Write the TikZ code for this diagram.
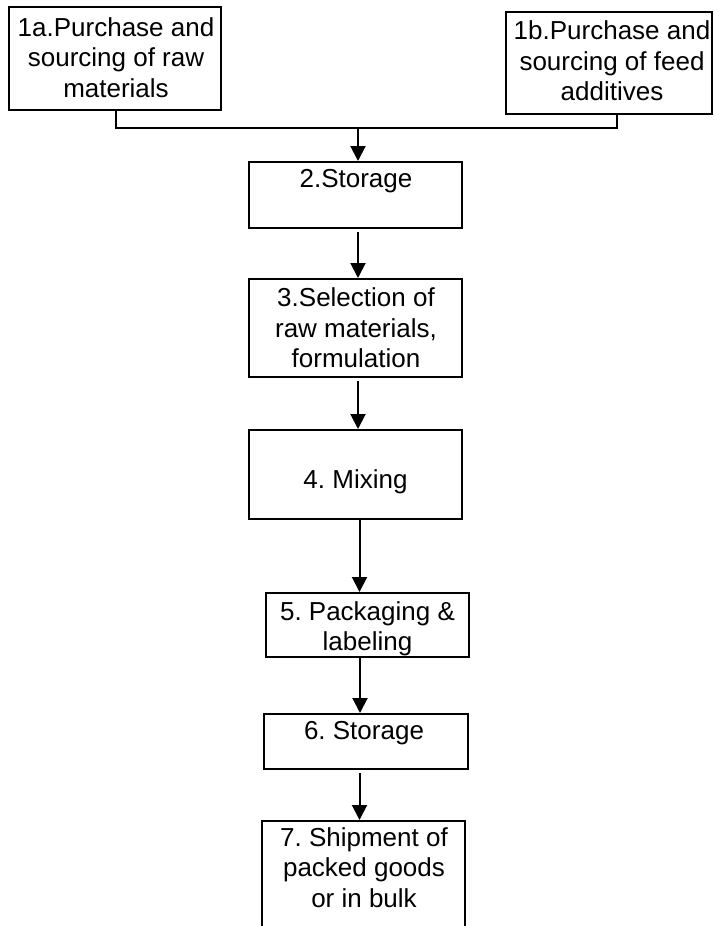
\documentclass[tikz,border=0pt]{standalone}
\usepackage{fontspec}
\setmainfont{Liberation Sans}
\usetikzlibrary{arrows.meta,calc}
\frenchspacing
\begin{document}
\begin{tikzpicture}[x=1pt,y=-1pt,
  box/.style={draw=black, line width=2pt, rectangle, inner sep=0pt},
  txt/.style={anchor=north, inner sep=0pt, align=center, font=\frenchspacing\fontsize{26}{30.5}\selectfont},
  arr/.style={draw=black, line width=2pt, -{Triangle[length=15pt,width=15pt]}},
  conn/.style={draw=black, line width=1.4pt}]
\useasboundingbox (0,0) rectangle (713,926);
\clip (0,0) rectangle (713,926);
\fill[white] (0,0) rectangle (713,926);
% boxes
\node[box, minimum width=212pt, minimum height=103pt] (b1a) at (115,58.5) {};
\node[box, minimum width=206pt, minimum height=102pt] (b1b) at (609,63) {};
\node[box, minimum width=213pt, minimum height=66pt] (s2) at (355.5,195) {};
\node[box, minimum width=213pt, minimum height=98pt] (s3) at (355.5,328) {};
\node[box, minimum width=213pt, minimum height=89pt] (s4) at (355.5,474.5) {};
\node[box, minimum width=203pt, minimum height=64pt] (s5) at (367.5,625) {};
\node[box, minimum width=204pt, minimum height=55pt] (s6) at (366,741.5) {};
\node[box, minimum width=203pt, minimum height=140pt] (s7) at (363.5,891) {};
% texts
\node[txt] (t1a) at ($(b1a.north)+(1,11.4)$) {1a.Purchase and\\sourcing of raw\\materials};
\node[txt] (t1b) at ($(b1b.north)+(3,9.7)$) {1b.Purchase and\\sourcing of feed\\additives};
\node[txt] (t2) at ($(s2.north)+(0.5,8.6)$) {2.Storage};
\node[txt] (t3) at ($(s3.north)+(0.5,9.5)$) {3.Selection of\\raw materials,\\formulation};
\node[txt] (t4) at ($(s4.north)+(0,40)$) {4. Mixing};
\node[txt] (t5) at ($(s5.north)+(0,9)$) {5. Packaging \&\\labeling};
\node[txt] (t6) at ($(s6.north)+(-2,8)$) {6. Storage};
\node[txt] (t7) at ($(s7.north)+(0.5,7)$) {7. Shipment of\\packed goods\\or in bulk};
% connectors
\coordinate (jl) at (116,128);
\coordinate (jr) at (617,128);
\coordinate (jm) at (358,128);
\draw[conn] (b1a.south -| jl) -- (jl) -- (jr) -- (b1b.south -| jr);
\draw[arr] (jm) -- (jm |- s2.north);
\coordinate (x23) at (358,0);
\coordinate (x34) at (358,0);
\coordinate (x45) at (359.5,0);
\coordinate (x56) at (360,0);
\coordinate (x67) at (359.5,0);
\draw[arr] ($(x23 |- s2.south)+(0,3)$) -- (x23 |- s3.north);
\draw[arr] ($(x34 |- s3.south)+(0,3)$) -- (x34 |- s4.north);
\draw[arr] (x45 |- s4.south) -- (x45 |- s5.north);
\draw[arr] (x56 |- s5.south) -- (x56 |- s6.north);
\draw[arr] ($(x67 |- s6.south)+(0,3)$) -- (x67 |- s7.north);
\end{tikzpicture}
\end{document}
